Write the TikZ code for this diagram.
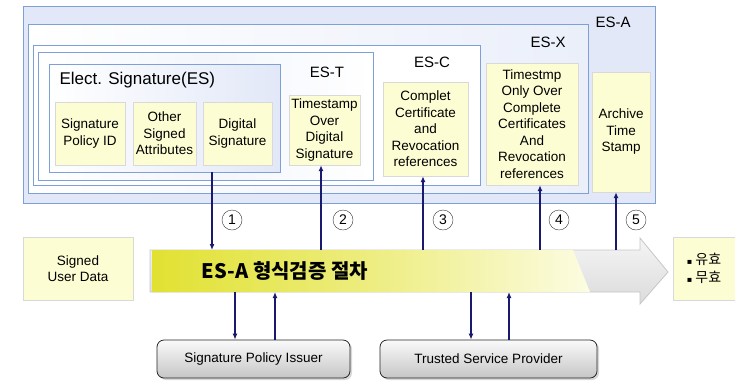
\documentclass[tikz,border=0pt]{standalone}
\usepackage{fontspec}
\setmainfont{Liberation Sans}
\newfontfamily\krfont{Noto Sans CJK KR}
\newfontfamily\symfont{DejaVu Sans}
\usetikzlibrary{arrows.meta}
\usetikzlibrary{shadows}

\definecolor{frameblue}{RGB}{125,160,215}
\definecolor{lavender}{RGB}{226,232,248}
\definecolor{navyflow}{RGB}{25,25,110}
\definecolor{paleyellow}{RGB}{253,253,212}
\definecolor{procyellow}{RGB}{225,225,50}
\definecolor{procpale}{RGB}{252,252,226}

\begin{document}
\begin{tikzpicture}[
    x=1pt, y=-1pt,
    >={Latex[length=6pt,width=5pt]},
    % Marcos anidados de las firmas (ES, ES-T, ES-C, ES-X, ES-A)
    Frame/.style={
        draw=frameblue,
        line width=0.9pt,
        inner sep=0pt
    },
    % Cajas amarillas con los atributos
    Item/.style={
        draw=gray!30,
        fill=paleyellow,
        align=center,
        inner sep=0pt,
        font=\fontsize{13.5}{16.5}\selectfont
    },
    % Flechas del procedimiento
    Flow/.style={
        draw=navyflow,
        line width=1.3pt,
        ->
    },
    % Numeros de paso
    StepNo/.style={
        circle,
        draw=black!80,
        fill=white,
        minimum size=20pt,
        inner sep=0pt,
        font=\fontsize{14}{14}\selectfont
    },
    % Entidades externas
    Party/.style={
        rounded corners=7pt,
        draw=gray!30!black,
        line width=0.8pt,
        top color=gray!4,
        bottom color=gray!45,
        drop shadow={shadow xshift=2pt, shadow yshift=-2pt, fill=gray!60},
        minimum height=38pt,
        font=\fontsize{13.5}{13.5}\selectfont
    }
]
    \useasboundingbox (0,0) rectangle (735,381);

    % --- 1. LOS MARCOS ANIDADOS ---
    \node[Frame, fill=lavender, minimum width=632pt, minimum height=197pt] (esa) at (339,104.5) {};
    \node[Frame, left color=white, right color=lavender!70, minimum width=560pt, minimum height=169pt] (esx) at (308,108.5) {};
    \node[Frame, fill=white, minimum width=447pt, minimum height=140pt] (esc) at (256.5,115) {};
    \node[Frame, left color=white, right color=white, middle color=lavender!40, minimum width=335pt, minimum height=128pt] (est) at (205.5,116) {};
    \node[Frame, left color=white, right color=lavender, minimum width=231pt, minimum height=108pt] (es) at (164.5,118) {};

    % Etiquetas de los marcos
    \node[font=\fontsize{17}{17}\selectfont, anchor=west] (estitle) at (56,80) {Elect. Signature(ES)};
    \node[font=\fontsize{15}{15}\selectfont] (estlabel) at (327,72) {ES-T};
    \node[font=\fontsize{15}{15}\selectfont] (esclabel) at (432,62) {ES-C};
    \node[font=\fontsize{15}{15}\selectfont] (esxlabel) at (548,42) {ES-X};
    \node[font=\fontsize{15}{15}\selectfont] (esalabel) at (613,22) {ES-A};

    % --- 2. LOS ATRIBUTOS ---
    \node[Item, minimum width=70pt, minimum height=63pt] (spid) at (90,133.5) {Signature\\Policy ID};
    \node[Item, minimum width=63pt, minimum height=63pt] (other) at (164.5,133.5) {Other\\Signed\\Attributes};
    \node[Item, minimum width=69pt, minimum height=63pt] (dsig) at (237.5,133.5) {Digital\\Signature};
    \node[Item, minimum width=71pt, minimum height=70pt] (tsds) at (324.5,130) {Timestamp\\Over\\Digital\\Signature};
    \node[Item, minimum width=85pt, minimum height=94pt] (cref) at (425.5,129) {Complet\\Certificate\\and\\Revocation\\references};
    \node[Item, minimum width=92pt, minimum height=122pt] (tsref) at (532,124) {Timestmp\\Only Over\\Complete\\Certificates\\And\\Revocation\\references};
    \node[Item, minimum width=58pt, minimum height=120pt] (ats) at (621,132) {Archive\\Time\\Stamp};

    % --- 3. LA FLECHA DEL PROCEDIMIENTO ---
    \shade[top color=gray!8, bottom color=gray!28, draw=gray!45, line width=0.8pt]
        (150,250) -- (640,250) -- (640,238) -- (668,272) -- (640,304) -- (640,292) -- (150,292) -- cycle;
    \shade[left color=procyellow, right color=procpale, middle color=procyellow!55!procpale]
        (152,250) -- (573,250) -- (590,292) -- (152,292) -- cycle;
    \node[minimum width=440pt, minimum height=42pt] (proc) at (370,271) {};
    \node[font=\krfont\bfseries\fontsize{20}{20}\selectfont] (proctext) at (285,271) {ES-A 형식검증 절차};

    % Puntos de conexion sobre la flecha
    \coordinate (in1) at (212,250);
    \coordinate (out2) at (321,250);
    \coordinate (out3) at (423,250);
    \coordinate (out4) at (540,250);
    \coordinate (out5) at (616,250);
    \coordinate (sp1) at (235,292);
    \coordinate (sp2) at (275,292);
    \coordinate (tp1) at (471,292);
    \coordinate (tp2) at (509,292);

    % --- 4. ENTRADA Y RESULTADO ---
    \node[Item, minimum width=110pt, minimum height=63pt] (userdata) at (78,268.5) {Signed\\User Data};
    \node[Item, align=left, minimum width=62pt, minimum height=63pt, font=\krfont\fontsize{14}{18}\selectfont] (result) at (704,268.5)
        {{\symfont\fontsize{8}{8}\selectfont ▪} 유효\\{\symfont\fontsize{8}{8}\selectfont ▪} 무효};

    % --- 5. ENTIDADES EXTERNAS ---
    \node[Party, minimum width=193pt] (issuer) at (253.5,359) {Signature Policy Issuer};
    \node[Party, minimum width=217pt] (tsp) at (488.5,359) {Trusted Service Provider};

    % --- 6. FLECHAS Y PASOS ---
    \draw[Flow] (es.south -| in1) -- (in1);
    \draw[Flow] (out2) -- (tsds.south -| out2);
    \draw[Flow] (out3) -- (cref.south -| out3);
    \draw[Flow] (out4) -- (tsref.south -| out4);
    \draw[Flow] (out5) -- (ats.south -| out5);

    \node[StepNo] (n1) at (232,220) {1};
    \node[StepNo] (n2) at (343,220) {2};
    \node[StepNo] (n3) at (443,220) {3};
    \node[StepNo] (n4) at (559,220) {4};
    \node[StepNo] (n5) at (636,220) {5};

    \draw[Flow] (sp1) -- (issuer.north -| sp1);
    \draw[Flow] (issuer.north -| sp2) -- (sp2);
    \draw[Flow] (tp1) -- (tsp.north -| tp1);
    \draw[Flow] (tsp.north -| tp2) -- (tp2);

\end{tikzpicture}
\end{document}
